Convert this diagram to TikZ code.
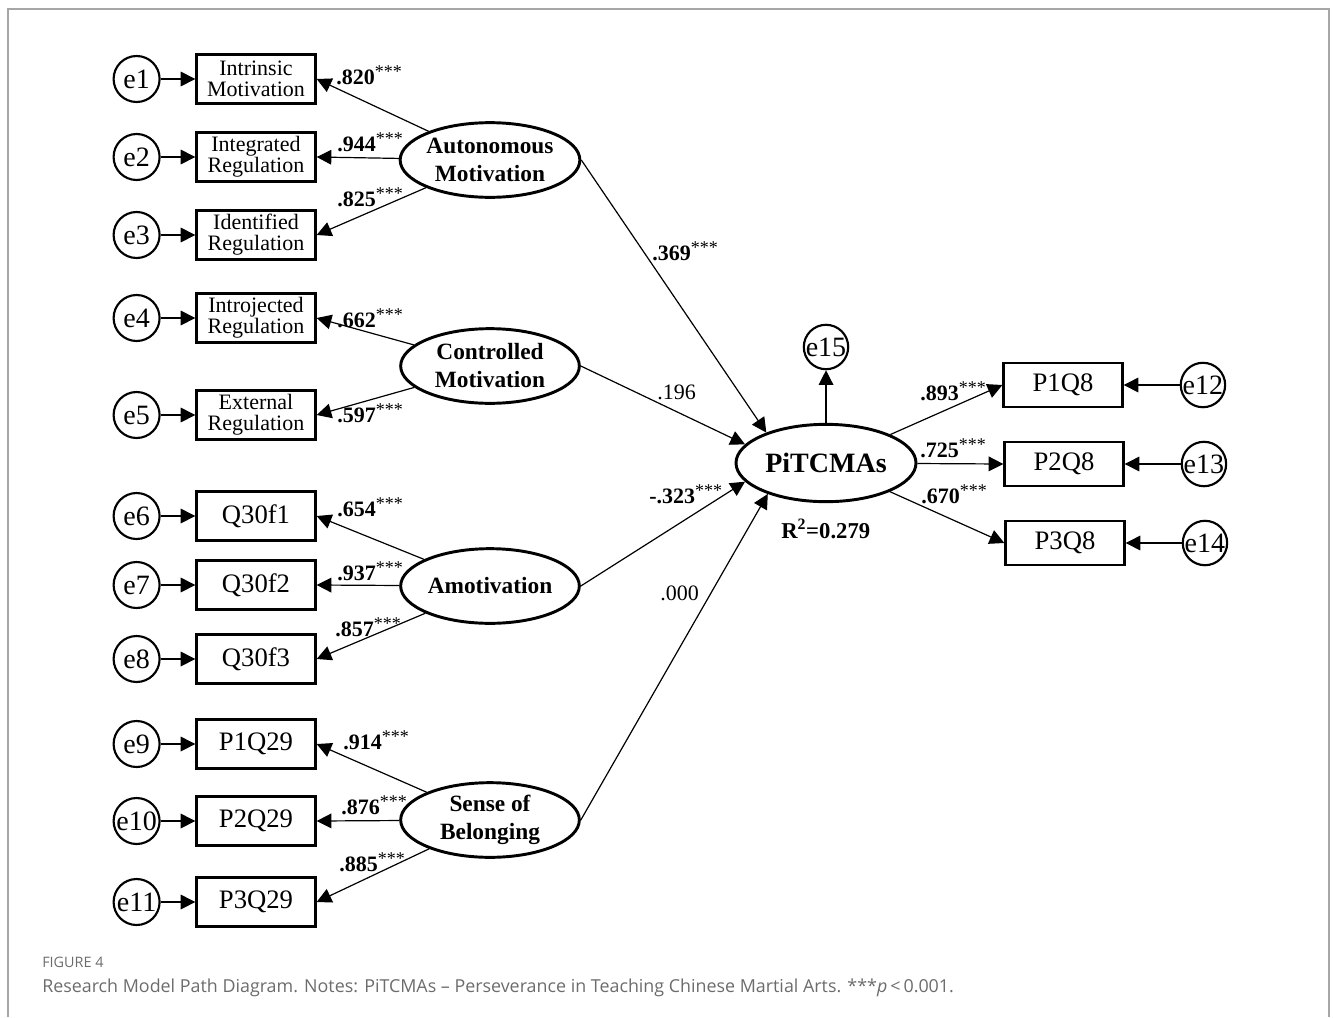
\documentclass[tikz,border=0pt]{standalone}
\usepackage{fontspec}
\setmainfont{Liberation Serif}
\newfontfamily\capfont[Ligatures=TeX]{Open Sans}
\usetikzlibrary{shapes,arrows.meta,positioning}

\newcommand{\sig}{\raisebox{0.3em}{\mdseries\fontsize{13.5}{13.5}\selectfont ***}}

\begin{document}
\begin{tikzpicture}[x=0.75pt,y=-0.75pt,
item/.style={rectangle, draw, line width=2pt, minimum width=89pt, minimum height=37pt, inner sep=1pt, align=center, font=\fontsize{20}{22}\selectfont},
item2/.style={item, font=\fontsize{16.5}{15.8}\selectfont},
outitem/.style={item, minimum height=33pt},
latent/.style={ellipse, draw, line width=2.2pt, minimum width=134pt, minimum height=56pt, inner sep=0pt, align=center, font=\bfseries\fontsize{17.5}{21}\selectfont},
err/.style={circle, draw, line width=1.6pt, minimum size=34.5pt, inner sep=0pt, font=\fontsize{21}{21}\selectfont},
path/.style={-{Triangle[length=11pt,width=11pt]}, line width=0.9pt},
coef/.style={anchor=base west, inner sep=0pt, font=\bfseries\fontsize{16.5}{18}\selectfont},
]
\useasboundingbox (0,0) rectangle (1333,1017);

% frame
\draw[gray!70, line width=1.5pt] (8,1017) -- (8,9) -- (1329,9) -- (1329,1017);

% Variaveis latentes
\node[latent] (auto) at (490,160) {Autonomous\\Motivation};
\node[latent] (ctrl) at (490,366) {Controlled\\Motivation};
\node[latent] (amot) at (490,586) {Amotivation};
\node[latent] (belong) at (490,820) {Sense of\\Belonging};
\node[latent, minimum width=135pt, minimum height=58pt, font=\bfseries\fontsize{21}{22}\selectfont] (pit) at (826,463) {PiTCMAs};

% Indicadores
\node[item2] (im) at (256,79) {Intrinsic\\Motivation};
\node[item2] (ig) at (256,157) {Integrated\\Regulation};
\node[item2] (id) at (256,235) {Identified\\Regulation};
\node[item2] (ij) at (256,318) {Introjected\\Regulation};
\node[item2] (ex) at (256,415) {External\\Regulation};
\node[item] (qa) at (256,516) {Q30f1};
\node[item] (qb) at (256,585) {Q30f2};
\node[item] (qc) at (256,659) {Q30f3};
\node[item] (sa) at (256,744) {P1Q29};
\node[item] (sb) at (256,821) {P2Q29};
\node[item] (sc) at (256,902) {P3Q29};
\node[outitem] (pa) at (1063,385) {P1Q8};
\node[outitem] (pb) at (1064,464) {P2Q8};
\node[outitem] (pc) at (1065,543) {P3Q8};

% Erros
\node[err, left=26pt of im] (e1) {e1};
\node[err, left=26pt of ig] (e2) {e2};
\node[err, left=26pt of id] (e3) {e3};
\node[err, left=26pt of ij] (e4) {e4};
\node[err, left=26pt of ex] (e5) {e5};
\node[err, left=26pt of qa] (e6) {e6};
\node[err, left=26pt of qb] (e7) {e7};
\node[err, left=26pt of qc] (e8) {e8};
\node[err, left=26pt of sa] (e9) {e9};
\node[err, left=26pt of sb] (e10) {e10};
\node[err, left=26pt of sc] (e11) {e11};
\node[err, minimum size=33pt, right=42pt of pa] (e12) {e12};
\node[err, minimum size=33pt, right=42pt of pb] (e13) {e13};
\node[err, minimum size=33pt, right=42pt of pc] (e14) {e14};
\node[err, minimum size=33pt] (e15) at (826,347) {e15};

% Erros - indicadores
\foreach \e/\b in {e1/im, e2/ig, e3/id, e4/ij, e5/ex, e6/qa, e7/qb, e8/qc, e9/sa, e10/sb, e11/sc, e12/pa, e13/pb, e14/pc}
  \draw[path] (\e) -- (\b);

% Cargas fatoriais
\foreach \l/\b in {auto/im, auto/ig, auto/id, ctrl/ij, ctrl/ex, amot/qa, amot/qb, amot/qc, belong/sa, belong/sb, belong/sc}
  \draw[path] (\l) -- (\b.east);
\foreach \b in {pa, pb, pc}
  \draw[path] (pit) -- (\b.west);
\draw[path] (pit.north) -- (e15);

% Caminhos estruturais
\draw[path] (auto.east) -- (pit.153);
\draw[path] (ctrl.east) -- (pit.167);
\draw[path] (amot.east) -- (pit.193);
\draw[path] (belong.east) -- (pit.208);

% Coeficientes
\node[coef] (k1) at (336,84) {.820\sig};
\node[coef] (k2) at (337,151) {.944\sig};
\node[coef] (k3) at (337,206) {.825\sig};
\node[coef] (k4) at (337,327) {.662\sig};
\node[coef] (k5) at (337,422) {.597\sig};
\node[coef] (k6) at (337,516) {.654\sig};
\node[coef] (k7) at (337,580) {.937\sig};
\node[coef] (k8) at (335,636) {.857\sig};
\node[coef] (k9) at (343,749) {.914\sig};
\node[coef] (k10) at (341,814) {.876\sig};
\node[coef] (k11) at (339,871) {.885\sig};
\node[coef] (k12) at (652,260) {.369\sig};
\node[coef, font=\fontsize{16.5}{18}\selectfont] (k13) at (657,399) {.196};
\node[coef] (k14) at (649,503) {-.323\sig};
\node[coef, font=\fontsize{16.5}{18}\selectfont] (k15) at (660,600) {.000};
\node[coef] (k16) at (920,400) {.893\sig};
\node[coef] (k17) at (920,457) {.725\sig};
\node[coef] (k18) at (921,503) {.670\sig};
\node[coef, font=\bfseries\fontsize{17}{18}\selectfont] (r2) at (781,538) {R\textsuperscript{2}=0.279};

% Legenda
\node[anchor=base west, inner sep=0pt, text=gray!85!black, font=\capfont\fontsize{10.8}{12}\selectfont] (fig) at (42,967) {FIGURE 4};
\node[anchor=base west, inner sep=0pt, text=gray!85!black, font=\capfont\fontsize{13.4}{15}\selectfont] (cap) at (42,992) {Research Model Path Diagram. Notes: PiTCMAs -- Perseverance in Teaching Chinese Martial Arts. ***\textit{p}\,<\,0.001.};

\end{tikzpicture}
\end{document}
